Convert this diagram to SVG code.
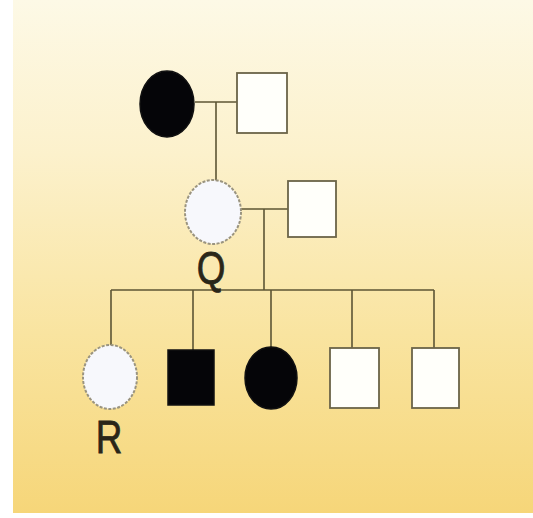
<svg xmlns="http://www.w3.org/2000/svg" width="533" height="518" viewBox="0 0 533 518">
<defs>
<linearGradient id="bg" x1="0" y1="0" x2="0" y2="1">
<stop offset="0" stop-color="#fdf9e6"/>
<stop offset="0.3" stop-color="#fcf1cc"/>
<stop offset="0.65" stop-color="#f9e4a0"/>
<stop offset="1" stop-color="#f6d679"/>
</linearGradient>
<style>
.ln{stroke:#5d5535;stroke-width:1.6;fill:none}
.aff{fill:#050508;stroke:#111;stroke-width:1.5}
.un{fill:#fffffa;stroke:#6b6448;stroke-width:1.8}
.unc{fill:#f7f8fc;stroke:#9a9480;stroke-width:2;stroke-dasharray:3 1.5}
.lbl{font-family:"Liberation Sans",Arial,sans-serif;font-size:46px;fill:#2a2618;stroke:#2a2618;stroke-width:0.8}
</style>
</defs>
<rect x="0" y="0" width="533" height="518" fill="#ffffff"/>
<rect x="13" y="0" width="520" height="513" fill="url(#bg)"/>
<g id="connectors">
<path class="ln" d="M195 102 H237 M216 102 V181"/>
<path class="ln" d="M241 209 H288 M264 209 V290"/>
<path class="ln" d="M111 290 H434 M111 290 V345 M193 290 V350 M271 290 V347 M352 290 V348 M434 290 V348"/>
</g>
<g id="gen1-female"><ellipse class="aff" cx="167" cy="104" rx="27" ry="33"/></g>
<g id="gen1-male"><rect class="un" x="237" y="73" width="50" height="60"/></g>
<g id="Q"><ellipse class="unc" cx="213" cy="212" rx="28" ry="32"/>
<text class="lbl" text-anchor="middle" transform="translate(211,284) scale(0.8,1)">Q</text></g>
<g id="Q-spouse"><rect class="un" x="288" y="181" width="48" height="56"/></g>
<g id="R"><ellipse class="unc" cx="110" cy="377" rx="27" ry="32"/>
<text class="lbl" text-anchor="middle" transform="translate(109,453) scale(0.8,1)">R</text></g>
<g id="child2"><rect class="aff" x="168" y="350" width="46" height="55"/></g>
<g id="child3"><ellipse class="aff" cx="271" cy="378" rx="26" ry="31"/></g>
<g id="child4"><rect class="un" x="330" y="348" width="49" height="60"/></g>
<g id="child5"><rect class="un" x="412" y="348" width="47" height="60"/></g>
</svg>
